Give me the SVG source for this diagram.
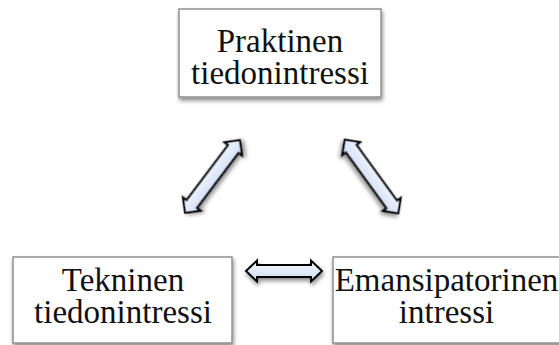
<svg xmlns="http://www.w3.org/2000/svg" width="559" height="345" viewBox="0 0 559 345">
  <defs>
    <filter id="shadow" x="-20%" y="-20%" width="140%" height="150%">
      <feGaussianBlur in="SourceAlpha" stdDeviation="2"/>
      <feOffset dx="1" dy="3" result="blur"/>
      <feComponentTransfer><feFuncA type="linear" slope="0.45"/></feComponentTransfer>
      <feMerge><feMergeNode/><feMergeNode in="SourceGraphic"/></feMerge>
    </filter>
    <linearGradient id="arrowFill" x1="0" y1="0" x2="0" y2="1">
      <stop offset="0" stop-color="#f4f8ff"/>
      <stop offset="1" stop-color="#cfdcf5"/>
    </linearGradient>
    <!-- double-headed block arrows centred on the origin -->
    <polygon id="dblArrowLong" points="-45.5,0 -34.5,-11 -34.5,-6.5 34.5,-6.5 34.5,-11 45.5,0 34.5,11 34.5,6.5 -34.5,6.5 -34.5,11"/>
    <polygon id="dblArrowShort" points="-38,0 -27,-10.5 -27,-6 27,-6 27,-10.5 38,0 27,10.5 27,6 -27,6 -27,10.5"/>
  </defs>
  <style>
    .box { fill: #ffffff; stroke: #8f8f8f; stroke-width: 1.5; filter: url(#shadow); }
    .label { font-family: "Liberation Serif", "Times New Roman", serif; font-size: 33px; fill: #111111; text-anchor: middle; }
    .arrow { fill: url(#arrowFill); stroke: #000000; stroke-width: 2; stroke-linejoin: miter; filter: url(#shadow); }
  </style>

  <g id="connectors">
    <use href="#dblArrowLong" class="arrow" transform="translate(212.5,176.5) rotate(-53)"/>
    <use href="#dblArrowLong" class="arrow" transform="translate(371.5,176.5) rotate(54)"/>
    <use href="#dblArrowShort" class="arrow" transform="translate(284,271)"/>
  </g>

  <g id="praktinen">
    <rect class="box" x="179" y="9" width="202" height="88"/>
    <text class="label" x="280" y="52">Praktinen</text>
    <text class="label" x="280" y="84">tiedonintressi</text>
  </g>

  <g id="tekninen">
    <rect class="box" x="13" y="257" width="219" height="86"/>
    <text class="label" x="123" y="291">Tekninen</text>
    <text class="label" x="123" y="323">tiedonintressi</text>
  </g>

  <g id="emansipatorinen">
    <rect class="box" x="333" y="257" width="240" height="86"/>
    <text class="label" x="446.5" y="291">Emansipatorinen</text>
    <text class="label" x="446.5" y="323">intressi</text>
  </g>
</svg>
